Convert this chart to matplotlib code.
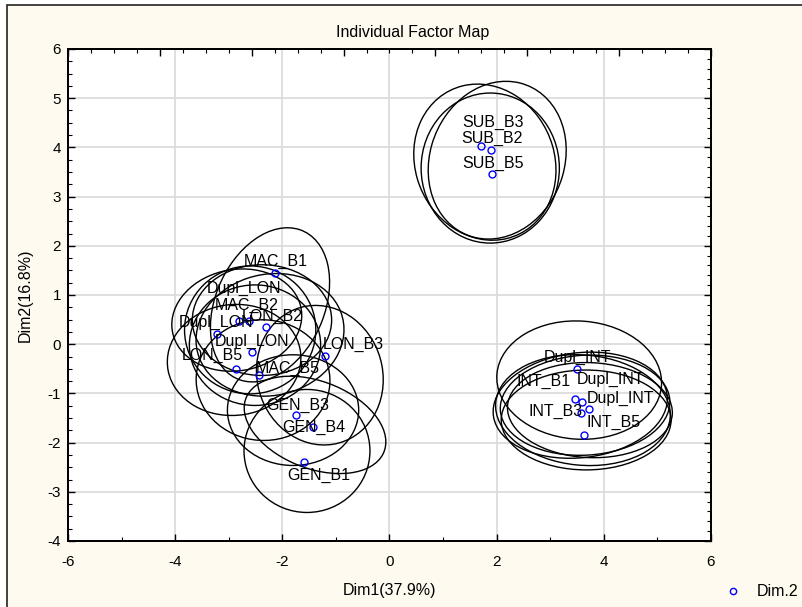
import matplotlib
matplotlib.use('Agg')
import matplotlib.pyplot as plt
from matplotlib.patches import Ellipse, Rectangle
from matplotlib.lines import Line2D
from matplotlib.ticker import MultipleLocator, NullFormatter

plt.rcParams['font.family'] = ['Liberation Sans', 'DejaVu Sans']
plt.rcParams['axes.unicode_minus'] = False

# ---- data ----
names = ['MAC_B1', 'Dupl_LON', 'MAC_B2', 'LON_B2', 'Dupl_LON', 'Dupl_LON',
         'LON_B3', 'LON_B5', 'MAC_B5', 'GEN_B3', 'GEN_B4', 'GEN_B1',
         'SUB_B3', 'SUB_B2', 'SUB_B5',
         'Dupl_INT', 'INT_B1', 'Dupl_INT', 'Dupl_INT', 'INT_B3', 'INT_B5']
dim1 = [-2.13, -2.63, -2.80, -2.30, -3.22, -2.56, -1.21, -2.86, -2.44, -1.74, -1.42, -1.60,
        1.70, 1.89, 1.92,
        3.50, 3.46, 3.59, 3.73, 3.57, 3.63]
dim2 = [1.44, 0.48, 0.48, 0.34, 0.21, -0.16, -0.24, -0.50, -0.63, -1.44, -1.69, -2.39,
        4.03, 3.95, 3.45,
        -0.50, -1.12, -1.18, -1.32, -1.39, -1.84]

# confidence ellipses (centre, full width/height in data units, tilt in degrees)
ell_cx = [-2.23, -2.38, -2.60, -2.23, -2.85, -2.51, -1.30, -2.90, -2.36, -1.80, -1.39, -1.54,
          1.78, 2.01, 1.88,
          3.54, 3.56, 3.65, 3.74, 3.61, 3.67]
ell_cy = [0.80, 0.49, 0.29, 0.19, 0.49, -0.02, -0.63, -0.32, -0.73, -1.34, -1.64, -2.17,
          3.70, 3.74, 3.58,
          -0.73, -1.24, -1.24, -1.34, -1.34, -1.54]
ell_w = [2.05, 2.60, 2.45, 2.80, 2.45, 2.45, 2.35, 2.50, 2.50, 2.45, 2.80, 2.35,
         2.61, 2.52, 2.58,
         3.08, 3.27, 3.17, 3.08, 3.27, 3.17]
ell_h = [3.25, 2.25, 2.60, 2.45, 2.05, 2.45, 2.85, 2.25, 2.45, 2.25, 1.75, 2.50,
         3.21, 3.25, 3.05,
         2.40, 2.13, 2.03, 1.93, 2.24, 2.03]
ell_angle = [-20, 0, 0, 20, 15, 0, 10, 10, -15, 0, -25, 0,
             15, -15, 0,
             -5, 8, 4, -3, -6, 0]

title = 'Individual Factor Map'
xlabel = 'Dim1(37.9%)'
ylabel = 'Dim2(16.8%)'
legend_label = 'Dim.2'

# ---- layout (label offsets in pixels) ----
label_offsets = [(0, 12), (-5, 32), (7, 15), (6, 11), (-1, 11), (0, 11), (29, 12), (-24, 13),
                 (29, 7), (1, 10), (0, 0), (15, -14),
                 (12, 23), (1, 11), (1, 11),
                 (0, 11), (-31, 18), (29, 23), (31, 11), (-25, 1), (30, 12)]

W, H = 803, 607
fig = plt.figure(figsize=(W / 100, H / 100), dpi=100, facecolor='white')

# cream panel with border (right/bottom edges off canvas)
bg = Rectangle((7 / W, -0.05), 1.2, (H - 5) / H + 0.05, transform=fig.transFigure,
               facecolor='#FFFAF0', edgecolor='#222222', linewidth=1.2, zorder=-10)
fig.add_artist(bg)

ax = fig.add_axes([68 / W, (H - 541) / H, 643 / W, 492 / H])
ax.set_facecolor('white')
ax.set_xlim(-6, 6)
ax.set_ylim(-4, 6)

ax.xaxis.set_major_locator(MultipleLocator(2))
ax.xaxis.set_minor_locator(MultipleLocator(1))
ax.yaxis.set_major_locator(MultipleLocator(1))
ax.yaxis.set_minor_locator(MultipleLocator(0.25))
ax.grid(True, which='major', color='#DCDCDC', linewidth=1.3, zorder=0)
ax.set_axisbelow(True)
ax.tick_params(which='both', direction='in', top=False, right=False, labelsize=11, colors='black')
ax.tick_params(which='major', length=5, width=1)
ax.tick_params(which='minor', length=3, width=0.8)
ax.tick_params(axis='x', which='major', pad=10)
ax.tick_params(axis='y', which='major', pad=5)
for s in ax.spines.values():
    s.set_linewidth(1.2)
    s.set_color('black')

# secondary top axis ticks (no labels)
axt = ax.twiny()
axt.set_xlim(0, 7)
axt.xaxis.set_major_locator(MultipleLocator(1))
axt.xaxis.set_minor_locator(MultipleLocator(0.25))
axt.xaxis.set_major_formatter(NullFormatter())
axt.tick_params(which='both', direction='in')
axt.tick_params(which='major', length=5, width=1)
axt.tick_params(which='minor', length=3, width=0.8)

# secondary right axis ticks (no labels)
axr = ax.twinx()
axr.set_ylim(-4, 6)
axr.yaxis.set_major_locator(MultipleLocator(1))
axr.yaxis.set_minor_locator(MultipleLocator(0.2))
axr.yaxis.set_major_formatter(NullFormatter())
axr.tick_params(which='both', direction='in')
axr.tick_params(which='major', length=5, width=1)
axr.tick_params(which='minor', length=3, width=0.8)
for a in (axt, axr):
    for s in a.spines.values():
        s.set_linewidth(1.2)

# ellipses
for cx, cy, w, h, ang in zip(ell_cx, ell_cy, ell_w, ell_h, ell_angle):
    ax.add_patch(Ellipse((cx, cy), w, h, angle=ang, fill=False,
                         edgecolor='black', linewidth=1.0, zorder=3))

# points
ax.plot(dim1, dim2, linestyle='none', marker='o', markersize=5,
        markerfacecolor='none', markeredgecolor='#0000FF', markeredgewidth=1.0, zorder=5)

# point labels
for nm, x, y, (dx, dy) in zip(names, dim1, dim2, label_offsets):
    ax.annotate(nm, (x, y), xytext=(dx, dy), textcoords='offset pixels',
                ha='center', va='center', fontsize=11.5, color='black', zorder=6)

# titles / axis labels
fig.text(413 / W, 1 - 32 / H, title, ha='center', va='center', fontsize=11.5)
ax.set_xlabel(xlabel, fontsize=11.5)
ax.xaxis.label.set_va('center')
ax.xaxis.set_label_coords(0.5, -(591 - 541) / 492)
ax.set_ylabel(ylabel, fontsize=11.5)
ax.yaxis.label.set_va('center')
ax.yaxis.label.set_ha('center')
ax.yaxis.set_label_coords(-(68 - 25) / 643, 0.5)

# legend
fig.add_artist(Line2D([733 / W], [1 - 591 / H], transform=fig.transFigure, linestyle='none',
                      marker='o', markersize=4.5, markerfacecolor='none',
                      markeredgecolor='#0000FF', markeredgewidth=1.0))
fig.text(757 / W, 1 - 591 / H, legend_label, ha='left', va='center', fontsize=11.5)

fig.savefig('out.png', dpi=100, facecolor=fig.get_facecolor())
